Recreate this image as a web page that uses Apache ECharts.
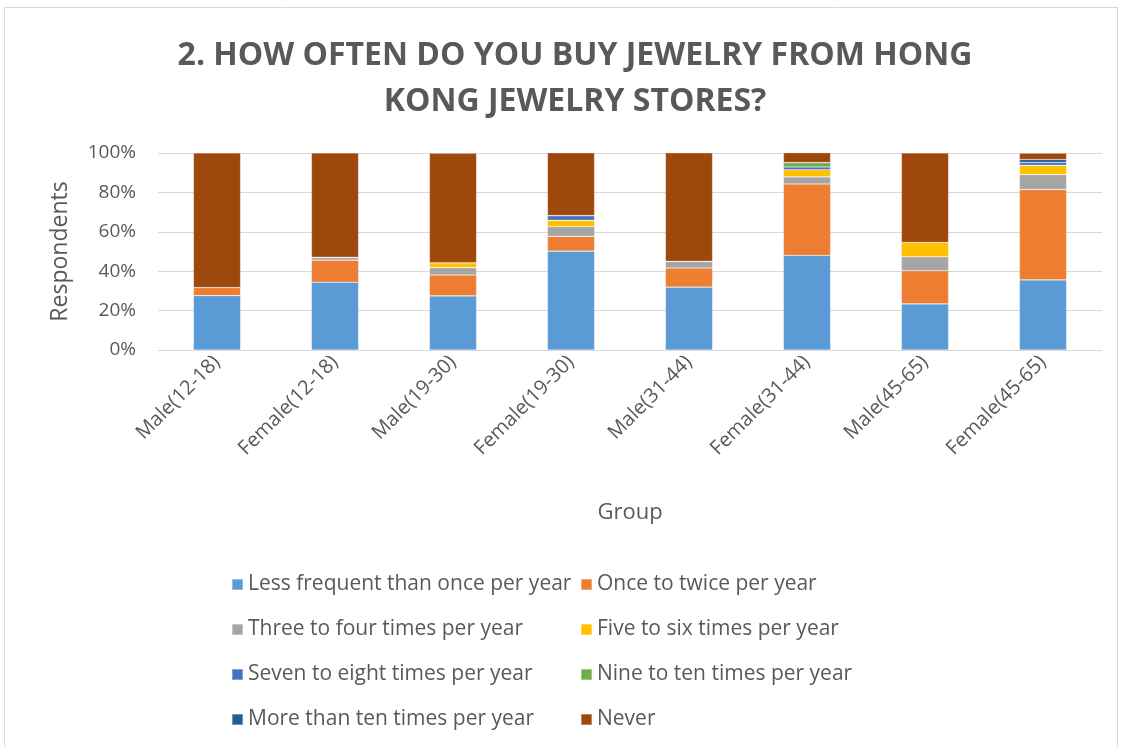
<!DOCTYPE html>
<html>
<head>
<meta charset="utf-8">
<script src="https://cdn.jsdelivr.net/npm/echarts@6/dist/echarts.min.js"></script>
<style>
  html, body { margin: 0; padding: 0; background: #fff; }
  #chart { width: 1123px; height: 747px; }
</style>
</head>
<body>
<div id="chart"></div>
<script>
// Survey groups (gender + age band)
const groups = ['Male(12-18)', 'Female(12-18)', 'Male(19-30)', 'Female(19-30)',
                'Male(31-44)', 'Female(31-44)', 'Male(45-65)', 'Female(45-65)'];

// Share of respondents (%) per answer, one value per group
const lessThanOnce   = [27.6, 34.4, 27.5, 50.2, 31.9, 48.0, 23.4, 35.6];
const onceTwice      = [4.1, 11.2, 10.6, 7.5, 9.7, 36.3, 16.8, 45.8];
const threeFour      = [0, 1.5, 3.7, 4.9, 3.4, 3.6, 7.1, 7.6];
const fiveSix        = [0, 0, 2.5, 3.2, 0, 3.6, 7.3, 4.7];
const sevenEight     = [0, 0, 0, 2.4, 0, 1.4, 0, 1.5];
const nineTen        = [0, 0, 0, 0, 0, 2.2, 0, 0];
const moreThanTen    = [0, 0, 0, 0, 0, 0, 0, 1.5];
const never          = [68.3, 52.9, 55.6, 31.9, 55.1, 5.1, 45.4, 3.2];

const answerNames = ['Less frequent than once per year', 'Once to twice per year',
                     'Three to four times per year', 'Five to six times per year',
                     'Seven to eight times per year', 'Nine to ten times per year',
                     'More than ten times per year', 'Never'];
const answerValues = [lessThanOnce, onceTwice, threeFour, fiveSix,
                      sevenEight, nineTen, moreThanTen, never];
const answerColors = ['#5B9BD5', '#ED7D31', '#A5A5A5', '#FFC000',
                      '#4472C4', '#70AD47', '#255E91', '#9E480E'];

const yTicks = [0, 20, 40, 60, 80, 100];

const FONT = '"Open Sans", "Noto Sans", sans-serif';
const TEXT = '#595959';

const chart = echarts.init(document.getElementById('chart'), null, { renderer: 'canvas' });

const legendText = { fontFamily: FONT, fontSize: 21, color: TEXT };

chart.setOption({
  backgroundColor: '#ffffff',
  animation: false,
  graphic: [{
    type: 'rect',
    shape: { x: 4.5, y: 7.5, width: 1113, height: 760 },
    style: { fill: 'none', stroke: '#d9d9d9', lineWidth: 1 },
    silent: true
  }],
  title: {
    text: '2. HOW OFTEN DO YOU BUY JEWELRY FROM HONG\nKONG JEWELRY STORES?',
    left: 570,
    textAlign: 'center',
    top: 28,
    textStyle: {
      fontFamily: FONT, fontSize: 32, fontWeight: 'bold', color: TEXT,
      lineHeight: 46, align: 'center'
    }
  },
  legend: [
    {
      data: answerNames.filter((_, i) => i % 2 === 0),
      orient: 'vertical', left: 226, top: 569,
      itemWidth: 11, itemHeight: 11, itemGap: 24,
      icon: 'rect', textStyle: legendText, selectedMode: false
    },
    {
      data: answerNames.filter((_, i) => i % 2 === 1),
      orient: 'vertical', left: 575, top: 569,
      itemWidth: 11, itemHeight: 11, itemGap: 24,
      icon: 'rect', textStyle: legendText, selectedMode: false
    }
  ],
  grid: { left: 158, right: 21, top: 153, height: 197 },
  xAxis: {
    type: 'category',
    data: groups,
    name: 'Group',
    nameLocation: 'middle',
    nameGap: 152,
    nameTextStyle: { fontFamily: FONT, fontSize: 22, color: TEXT },
    axisTick: { show: false },
    axisLine: { lineStyle: { color: '#d9d9d9', width: 1 } },
    axisLabel: { rotate: 45, fontFamily: FONT, fontSize: 20, color: TEXT, margin: 9, interval: 0 }
  },
  yAxis: {
    type: 'value',
    min: yTicks[0],
    max: yTicks[yTicks.length - 1],
    interval: yTicks[1] - yTicks[0],
    name: 'Respondents',
    nameLocation: 'middle',
    nameGap: 86,
    nameRotate: 90,
    nameTextStyle: { fontFamily: FONT, fontSize: 23, color: TEXT },
    axisLine: { show: false },
    axisTick: { show: false },
    splitLine: { lineStyle: { color: '#d9d9d9', width: 1 } },
    axisLabel: { formatter: '{value}%', fontFamily: FONT, fontSize: 19, color: TEXT, margin: 22 }
  },
  series: answerNames.map((name, i) => ({
    name: name,
    type: 'bar',
    stack: 'total',
    barWidth: '40%',
    data: answerValues[i],
    itemStyle: { color: answerColors[i], borderColor: 'rgba(255,255,255,0.35)', borderWidth: 0.6 }
  }))
});
</script>
</body>
</html>
